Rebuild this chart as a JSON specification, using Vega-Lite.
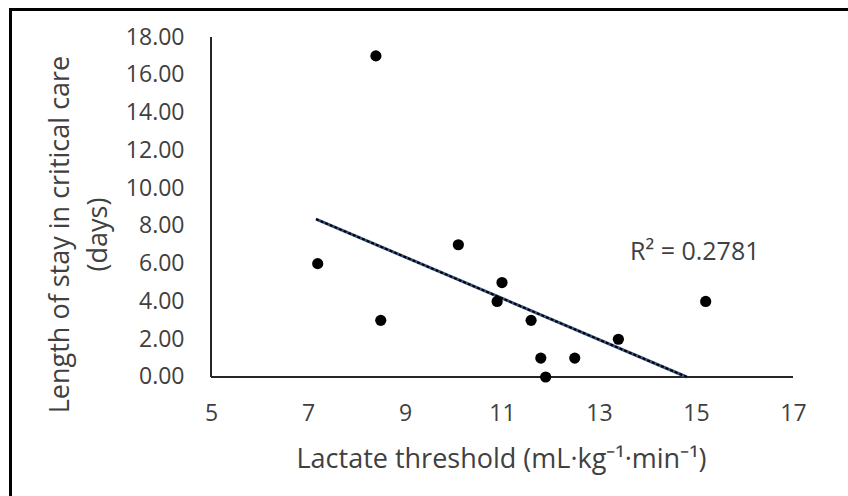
{
  "$schema": "https://vega.github.io/schema/vega-lite/v6.json",
  "width": 838,
  "height": 487,
  "autosize": {"type": "none"},
  "padding": {"left": 10, "top": 9, "right": 0, "bottom": 0},
  "background": "white",
  "config": {"view": {"stroke": null}, "font": "Open Sans"},
  "datasets": {
    "pts": [
      {"x": 8.4, "y": 17},
      {"x": 7.2, "y": 6},
      {"x": 8.5, "y": 3},
      {"x": 10.1, "y": 7},
      {"x": 10.9, "y": 4},
      {"x": 11.0, "y": 5},
      {"x": 11.6, "y": 3},
      {"x": 11.8, "y": 1},
      {"x": 11.9, "y": 0},
      {"x": 12.5, "y": 1},
      {"x": 13.4, "y": 2},
      {"x": 15.2, "y": 4}
    ],
    "trend": [
      {"x": 7.165, "y": 8.36},
      {"x": 14.81, "y": 0}
    ],
    "ann": [
      {"x": 13.64, "y": 6.62, "label": "R² = 0.2781"}
    ]
  },
  "encoding": {
    "x": {"field": "x", "type": "quantitative", "scale": {"domain": [0.85567, 18.134], "nice": false, "zero": false}},
    "y": {"field": "y", "type": "quantitative", "scale": {"domain": [-6.3001, 19.4824], "nice": false, "zero": false}}
  },
  "layer": [
    {
      "data": {"name": "pts"},
      "mark": {"type": "rule", "color": "#262626", "strokeWidth": 2},
      "encoding": {
        "x": {"datum": 5, "type": "quantitative"},
        "x2": {"datum": 17},
        "y": {"datum": 0, "type": "quantitative"}
      }
    },
    {
      "data": {"name": "pts"},
      "mark": {"type": "rule", "color": "#262626", "strokeWidth": 2},
      "encoding": {
        "x": {"datum": 5, "type": "quantitative"},
        "y": {"datum": 0, "type": "quantitative"},
        "y2": {"datum": 18}
      }
    },
    {
      "data": {"name": "trend"},
      "mark": {"type": "line", "color": "#3b5583", "strokeWidth": 3},
      "encoding": {}
    },
    {
      "data": {"name": "trend"},
      "mark": {"type": "line", "color": "#000000", "strokeWidth": 2, "strokeDash": [3, 2]},
      "encoding": {}
    },
    {
      "data": {"name": "pts"},
      "mark": {"type": "circle", "color": "#000000", "opacity": 1, "size": 125},
      "encoding": {
        "x": {
          "field": "x", "type": "quantitative",
          "axis": {
            "orient": "top",
            "values": [5, 7, 9, 11, 13, 15, 17],
            "format": "d",
            "grid": false,
            "ticks": false,
            "domain": true,
            "domainColor": "#000000",
            "domainWidth": 3,
            "domainCap": "square",
            "labelFont": "Open Sans",
            "labelFontSize": 23,
            "labelColor": "#404040",
            "labelPadding": -404,
            "labelBaseline": "middle",
            "labelAlign": "center",
            "title": "Lactate threshold (mL·kg⁻¹·min⁻¹)",
            "titleFont": "Open Sans",
            "titleFontSize": 27,
            "titleFontWeight": "normal",
            "titleColor": "#404040",
            "titleX": 491,
            "titleY": 458,
            "titleAlign": "center",
            "titleBaseline": "alphabetic",
            "titleAnchor": null
          }
        },
        "y": {
          "field": "y", "type": "quantitative",
          "axis": {
            "orient": "left",
            "values": [0, 2, 4, 6, 8, 10, 12, 14, 16, 18],
            "format": ".2f",
            "grid": false,
            "ticks": false,
            "domain": true,
            "domainColor": "#000000",
            "domainWidth": 3,
            "domainCap": "square",
            "labelFont": "Open Sans",
            "labelFontSize": 23,
            "labelColor": "#404040",
            "labelPadding": -174,
            "labelAlign": "right",
            "labelBaseline": "middle",
            "title": ["Length of stay in critical care", "(days)"],
            "titleFont": "Open Sans",
            "titleFontSize": 27,
            "titleFontWeight": "normal",
            "titleColor": "#404040",
            "titleAngle": 270,
            "titleX": 58,
            "titleY": 225,
            "titleAlign": "center",
            "titleBaseline": "alphabetic",
            "titleLineHeight": 38,
            "titleAnchor": null
          }
        }
      }
    },
    {
      "data": {"name": "ann"},
      "mark": {"type": "text", "align": "left", "baseline": "middle", "font": "Open Sans", "fontSize": 25, "color": "#404040"},
      "encoding": {"text": {"field": "label"}}
    }
  ]
}
